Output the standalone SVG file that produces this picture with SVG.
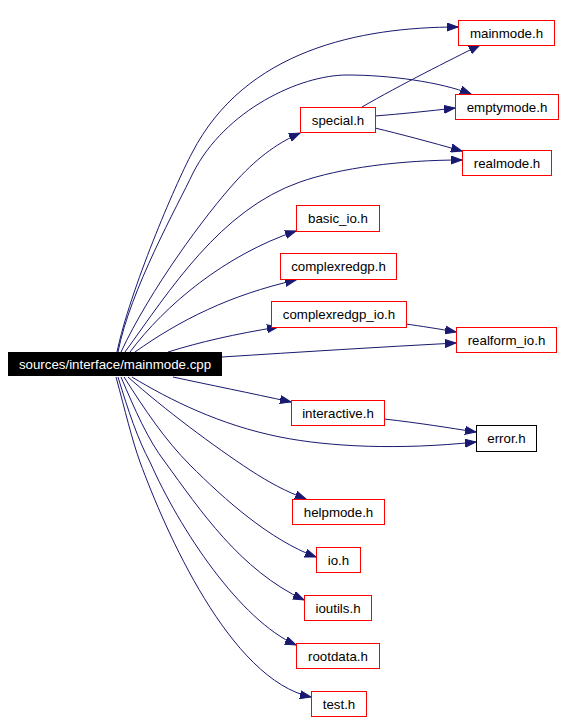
<svg xmlns="http://www.w3.org/2000/svg" width="563" height="720" viewBox="0 0 563 720">
<defs>
<marker id="arr" markerUnits="userSpaceOnUse" markerWidth="12" markerHeight="9" refX="11" refY="4.5" orient="auto">
<path d="M0,0.5 L11,4.5 L0,8.5 z" fill="#191970" stroke="#191970" stroke-width="1"/>
</marker>
<style>
.n rect{fill:#fff;stroke:#ff0000;stroke-width:1}
.n text{font-family:"Liberation Sans",Arial,sans-serif;font-size:13.3px;fill:#000;text-anchor:middle}
.blk rect{stroke:#000}
.main rect{fill:#000;stroke:#000}
.main text{fill:#fff}
#edges path{fill:none;stroke:#191970;stroke-width:1;marker-end:url(#arr)}
</style>
</defs>
<rect width="563" height="720" fill="#fff"/>
<g id="edges">
<path d="M117,352 C130,290 175,185 192,153 C245,50 360,27 458,27"/>
<path d="M118,352 C130,290 178,205 193,173 C225,110 300,75 347,75 C390,75 440,82 471,94"/>
<path d="M121,352 C150,290 205,215 237,180 C260,155 280,142 300,133"/>
<path d="M125,352 C170,290 220,210 300,182 C340,168 400,160 462,160"/>
<path d="M130,352 C165,305 225,255 296,231"/>
<path d="M135,352 C180,320 230,295 296,280"/>
<path d="M168,352 C200,342 235,334 278,327"/>
<path d="M222,357 C300,352 380,347 456,343"/>
<path d="M406,324 C420,326 440,329 456,332"/>
<path d="M362,107 C400,85 450,60 480,45"/>
<path d="M375,116 C400,114 430,111 455,108"/>
<path d="M375,128 C400,134 430,142 462,151"/>
<path d="M173,377 C210,385 250,393 291,402"/>
<path d="M132,377 C170,400 220,425 280,437 C330,447 400,450 476,442"/>
<path d="M384,419 C420,423 450,428 476,432"/>
<path d="M128,377 C165,410 215,447 250,470 C270,483 285,491 306,499"/>
<path d="M124,377 C145,410 165,440 190,465 C225,500 270,540 316,557"/>
<path d="M121,377 C135,410 148,440 165,462 C200,510 240,570 304,600"/>
<path d="M118,377 C128,410 138,440 150,462 C180,530 240,620 296,645"/>
<path d="M116,377 C125,410 132,440 140,462 C165,530 230,680 311,697"/>
</g>
<g id="main" class="n main"><rect x="8.5" y="352.5" width="213" height="23"/><text x="115" y="368.7">sources/interface/mainmode.cpp</text></g>
<g id="mainmode" class="n"><rect x="458.5" y="20.5" width="96" height="25"/><text x="506.5" y="37.5">mainmode.h</text></g>
<g id="emptymode" class="n"><rect x="455.5" y="94.5" width="103" height="25"/><text x="507" y="111.5">emptymode.h</text></g>
<g id="special" class="n"><rect x="300.5" y="107.5" width="75" height="25"/><text x="338" y="124.5">special.h</text></g>
<g id="realmode" class="n"><rect x="462.5" y="150.5" width="89" height="25"/><text x="507" y="167.5">realmode.h</text></g>
<g id="basic_io" class="n"><rect x="296.5" y="205.5" width="83" height="26"/><text x="338" y="223">basic_io.h</text></g>
<g id="complexredgp" class="n"><rect x="280.5" y="253.5" width="116" height="26"/><text x="338.5" y="271">complexredgp.h</text></g>
<g id="complexredgp_io" class="n"><rect x="271.5" y="301.5" width="135" height="26"/><text x="339" y="319">complexredgp_io.h</text></g>
<g id="realform_io" class="n"><rect x="456.5" y="327.5" width="100" height="25"/><text x="506.5" y="344.5">realform_io.h</text></g>
<g id="interactive" class="n"><rect x="291.5" y="400.5" width="93" height="25"/><text x="338" y="417.5">interactive.h</text></g>
<g id="error" class="n blk"><rect x="476.5" y="425.5" width="60" height="26"/><text x="506.5" y="443">error.h</text></g>
<g id="helpmode" class="n"><rect x="292.5" y="499.5" width="92" height="25"/><text x="338.5" y="516.5">helpmode.h</text></g>
<g id="io" class="n"><rect x="316.5" y="547.5" width="44" height="25"/><text x="338.5" y="564.5">io.h</text></g>
<g id="ioutils" class="n"><rect x="304.5" y="595.5" width="67" height="25"/><text x="338" y="612.5">ioutils.h</text></g>
<g id="rootdata" class="n"><rect x="296.5" y="643.5" width="83" height="25"/><text x="338" y="660.5">rootdata.h</text></g>
<g id="test" class="n"><rect x="311.5" y="691.5" width="55" height="25"/><text x="339" y="708.5">test.h</text></g>
</svg>
